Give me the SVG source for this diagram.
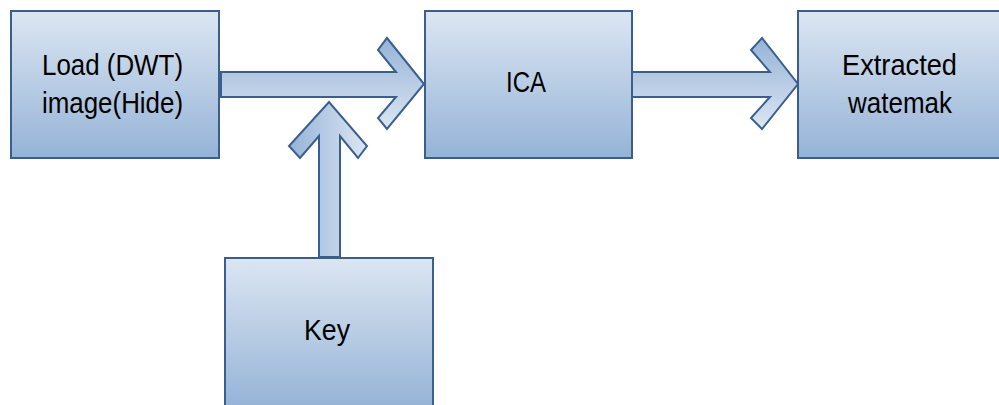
<svg xmlns="http://www.w3.org/2000/svg" width="999" height="405" viewBox="0 0 999 405">
<defs>
<linearGradient id="gBox" x1="0" y1="0" x2="0" y2="1">
<stop offset="0" stop-color="#dce6f2"/>
<stop offset="1" stop-color="#95b3d7"/>
</linearGradient>
<linearGradient id="gArrH" x1="0" y1="0" x2="0" y2="1">
<stop offset="0" stop-color="#95b3d7"/>
<stop offset="1" stop-color="#dce6f2"/>
</linearGradient>
<linearGradient id="gArrV" x1="0" y1="0" x2="1" y2="0">
<stop offset="0" stop-color="#95b3d7"/>
<stop offset="1" stop-color="#dce6f2"/>
</linearGradient>
</defs>
<style>
.box{fill:url(#gBox);stroke:#3a5f8f;stroke-width:2}
.arrH{fill:url(#gArrH);stroke:#3a5f8f;stroke-width:2;stroke-linejoin:miter}
.arrV{fill:url(#gArrV);stroke:#3a5f8f;stroke-width:2;stroke-linejoin:miter}
.t{font-family:"Liberation Sans",Arial,sans-serif;font-size:30px;fill:#000}
</style>
<rect width="999" height="405" fill="#fff"/>
<g id="connectors">
<polygon class="arrH" points="221,72 396,72 378,50 387,38 424,84 387,129 378,118 396,97 221,97"/>
<polygon class="arrH" points="632,72 770,72 751,50 762,38 798,84 762,129 751,118 770,97 632,97"/>
<polygon class="arrV" points="319,257 319,136 300,158 289,146 329,102 367,146 358,158 340,136 340,257"/>
</g>
<g id="node-load">
<rect class="box" x="11" y="11" width="208" height="147"/>
<text class="t" x="42" y="75" textLength="141" lengthAdjust="spacingAndGlyphs">Load (DWT)</text>
<text class="t" x="42" y="113" textLength="141" lengthAdjust="spacingAndGlyphs">image(Hide)</text>
</g>
<g id="node-ica">
<rect class="box" x="425" y="11" width="207" height="147"/>
<text class="t" x="506" y="92" textLength="40" lengthAdjust="spacingAndGlyphs">ICA</text>
</g>
<g id="node-extracted">
<rect class="box" x="798" y="11" width="210" height="147"/>
<text class="t" x="842" y="75" textLength="115" lengthAdjust="spacingAndGlyphs">Extracted</text>
<text class="t" x="848" y="113" textLength="104" lengthAdjust="spacingAndGlyphs">watemak</text>
</g>
<g id="node-key">
<rect class="box" x="225" y="258" width="208" height="150"/>
<text class="t" x="304" y="340" textLength="46" lengthAdjust="spacingAndGlyphs">Key</text>
</g>
</svg>
